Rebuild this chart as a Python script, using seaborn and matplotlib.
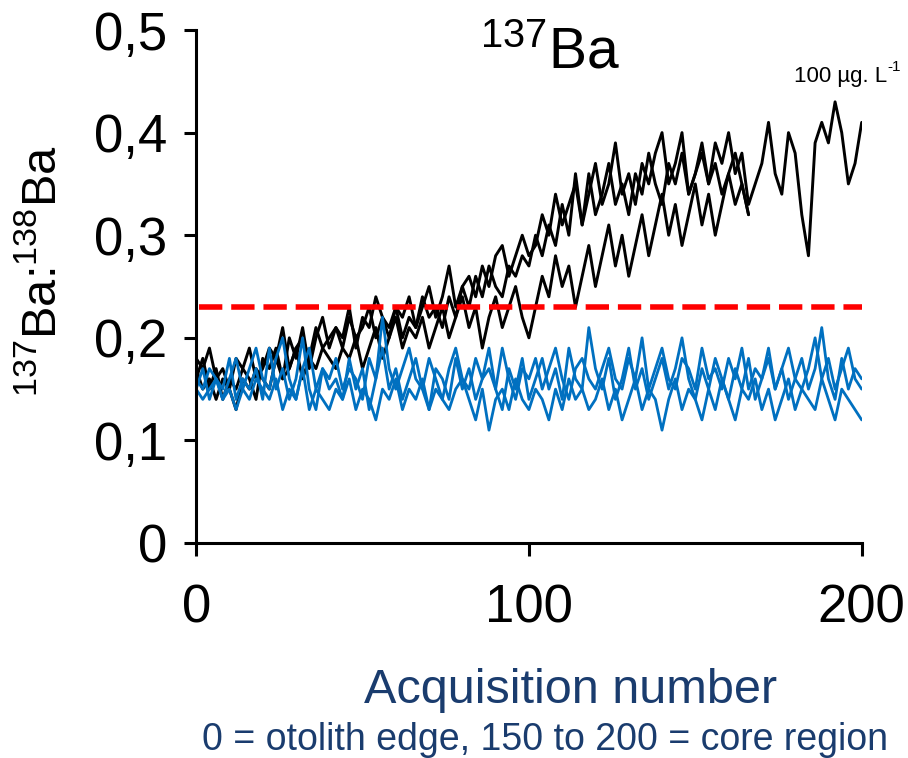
import numpy as np
import pandas as pd
import matplotlib
matplotlib.use("Agg")
import matplotlib.pyplot as plt
import seaborn as sns

# ---------------- data (step = 2 acquisitions) ----------------
x_full = list(range(0, 201, 2))      # 0..200
x_short = list(range(0, 167, 2))     # 0..166

black_a = [0.18,0.17,0.19,0.16,0.17,0.15,0.18,0.17,0.19,0.16,0.17,
           0.19,0.18,0.21,0.17,0.19,0.20,0.18,0.21,0.19,0.20,
           0.21,0.19,0.22,0.20,0.21,0.23,0.20,0.22,0.21,0.23,
           0.20,0.22,0.21,0.24,0.22,0.23,0.21,0.24,0.22,0.25,
           0.23,0.26,0.24,0.27,0.25,0.24,0.27,0.26,0.28,0.27,
           0.30,0.28,0.31,0.29,0.33,0.30,0.36,0.31,0.34,0.37,
           0.33,0.35,0.39,0.34,0.36,0.33,0.37,0.35,0.38,0.40,
           0.35,0.37,0.40,0.34,0.36,0.38,0.35,0.39,0.37,0.40,
           0.36,0.38,0.33,0.35,0.37,0.41,0.36,0.34,0.40,0.38,
           0.32,0.28,0.39,0.41,0.39,0.43,0.40,0.35,0.37,0.41]

black_b = [0.16,0.18,0.15,0.17,0.14,0.16,0.15,0.17,0.16,0.14,0.18,
           0.17,0.19,0.16,0.20,0.18,0.21,0.17,0.20,0.22,0.19,
           0.21,0.20,0.23,0.19,0.22,0.21,0.24,0.22,0.20,0.23,
           0.22,0.24,0.21,0.23,0.25,0.22,0.24,0.27,0.23,0.25,
           0.26,0.24,0.27,0.25,0.28,0.29,0.26,0.28,0.30,0.28,
           0.29,0.32,0.30,0.34,0.31,0.33,0.35,0.31,0.36,0.32,
           0.34,0.37,0.33,0.35,0.32,0.36,0.34,0.38,0.35,0.33,
           0.37,0.35,0.38,0.34,0.36,0.39,0.35,0.37,0.34,0.36,
           0.38,0.35,0.32]

black_c = [0.17,0.15,0.16,0.14,0.16,0.15,0.13,0.16,0.15,0.17,0.16,
           0.15,0.18,0.16,0.17,0.19,0.16,0.18,0.17,0.19,0.18,
           0.17,0.19,0.18,0.20,0.17,0.19,0.21,0.18,0.20,0.22,
           0.19,0.21,0.20,0.22,0.19,0.21,0.23,0.20,0.22,0.24,
           0.21,0.23,0.19,0.22,0.24,0.21,0.23,0.25,0.22,0.20,
           0.23,0.26,0.24,0.28,0.25,0.27,0.23,0.26,0.29,0.25,
           0.28,0.31,0.27,0.30,0.26,0.29,0.32,0.28,0.31,0.34,
           0.30,0.33,0.29,0.32,0.35,0.31,0.34,0.30,0.33,0.36,
           0.33,0.35,0.32]

blue_1 = [0.15,0.17,0.14,0.16,0.15,0.18,0.14,0.16,0.15,0.17,0.14,
          0.19,0.15,0.17,0.14,0.16,0.20,0.15,0.13,0.17,0.15,
          0.16,0.14,0.18,0.15,0.17,0.13,0.16,0.19,0.15,0.17,
          0.14,0.16,0.18,0.15,0.13,0.17,0.16,0.14,0.18,0.15,
          0.17,0.14,0.16,0.19,0.15,0.13,0.17,0.15,0.18,0.14,
          0.16,0.18,0.15,0.17,0.14,0.19,0.16,0.15,0.21,0.17,
          0.15,0.18,0.14,0.16,0.19,0.15,0.17,0.14,0.16,0.18,
          0.15,0.17,0.20,0.16,0.14,0.17,0.15,0.18,0.16,0.14,
          0.17,0.15,0.18,0.14,0.16,0.19,0.15,0.17,0.14,0.16,
          0.18,0.15,0.17,0.21,0.16,0.14,0.18,0.15,0.17,0.16]

blue_2 = [0.16,0.15,0.17,0.16,0.14,0.16,0.18,0.15,0.17,0.19,0.16,
          0.15,0.18,0.20,0.16,0.14,0.17,0.19,0.15,0.17,0.16,
          0.18,0.15,0.17,0.16,0.14,0.18,0.16,0.22,0.17,0.15,
          0.17,0.19,0.16,0.15,0.18,0.16,0.14,0.17,0.19,0.16,
          0.15,0.18,0.16,0.17,0.15,0.19,0.16,0.14,0.17,0.16,
          0.18,0.15,0.17,0.19,0.16,0.14,0.17,0.18,0.16,0.15,
          0.17,0.19,0.16,0.15,0.18,0.16,0.20,0.15,0.17,0.19,
          0.16,0.15,0.18,0.17,0.15,0.19,0.16,0.17,0.15,0.18,
          0.16,0.19,0.15,0.17,0.16,0.18,0.15,0.17,0.19,0.16,
          0.15,0.17,0.20,0.16,0.18,0.15,0.17,0.19,0.16,0.15]

blue_3 = [0.15,0.14,0.15,0.16,0.14,0.15,0.13,0.15,0.14,0.16,0.15,
          0.14,0.16,0.13,0.15,0.14,0.17,0.13,0.15,0.14,0.13,
          0.15,0.14,0.16,0.13,0.15,0.14,0.12,0.15,0.14,0.16,
          0.13,0.15,0.14,0.16,0.13,0.15,0.14,0.13,0.15,0.16,
          0.14,0.12,0.15,0.11,0.14,0.15,0.13,0.16,0.14,0.13,
          0.15,0.14,0.12,0.15,0.13,0.16,0.14,0.15,0.13,0.14,
          0.16,0.13,0.15,0.12,0.14,0.16,0.13,0.15,0.14,0.11,
          0.14,0.16,0.13,0.15,0.14,0.12,0.15,0.13,0.16,0.14,
          0.12,0.15,0.14,0.16,0.13,0.15,0.12,0.14,0.16,0.13,
          0.15,0.14,0.13,0.16,0.14,0.12,0.15,0.14,0.13,0.12]

threshold = 0.23
x_ticks = [0, 100, 200]
y_ticks = [0, 0.1, 0.2, 0.3, 0.4, 0.5]
y_tick_labels = ["0", "0,1", "0,2", "0,3", "0,4", "0,5"]

# ---------------- style ----------------
sns.set_theme(style="ticks")
plt.rcParams["font.family"] = ["Liberation Sans", "DejaVu Sans"]
plt.rcParams["mathtext.fontset"] = "custom"
plt.rcParams["mathtext.rm"] = "Liberation Sans"
plt.rcParams["mathtext.it"] = "Liberation Sans"
plt.rcParams["mathtext.bf"] = "Liberation Sans"
plt.rcParams["text.color"] = "black"
plt.rcParams["axes.labelcolor"] = "black"
plt.rcParams["xtick.color"] = "black"
plt.rcParams["ytick.color"] = "black"

fig = plt.figure(figsize=(9.08, 7.58), dpi=100)
ax = fig.add_axes([0.216, 0.2836, 0.733, 0.6768])

def frame(xs, ys, name):
    return pd.DataFrame({"x": xs, "y": ys, "series": name})

black_series = [(x_full, black_a, "A"), (x_short, black_b, "B"), (x_short, black_c, "C")]
blue_series = [(x_full, blue_1, "D"), (x_full, blue_2, "E"), (x_full, blue_3, "F")]

for xs, ys, nm in black_series:
    sns.lineplot(data=frame(xs, ys, nm), x="x", y="y", color="black",
                 linewidth=2.1, ax=ax, estimator=None, legend=False,
                 solid_joinstyle="round", solid_capstyle="round")
for xs, ys, nm in blue_series:
    sns.lineplot(data=frame(xs, ys, nm), x="x", y="y", color="#0070C0",
                 linewidth=2.0, ax=ax, estimator=None, legend=False,
                 solid_joinstyle="round", solid_capstyle="round")

ax.axhline(threshold, xmin=0.005, xmax=1.0, color="#FF0000", linewidth=4.0,
           linestyle=(0, (4.2, 1.6)), zorder=5)

ax.set_xlim(0, 200)
ax.set_ylim(0, 0.5)
ax.set_xticks(x_ticks)
ax.set_xticklabels([str(v) for v in x_ticks])
ax.set_yticks(y_ticks)
ax.set_yticklabels(y_tick_labels)
ax.tick_params(axis="both", labelsize=38, width=2.2, length=9, color="black",
               labelcolor="black", direction="out")
ax.tick_params(axis="x", pad=20)
ax.tick_params(axis="y", pad=12)
for side in ["top", "right"]:
    ax.spines[side].set_visible(False)
for side in ["left", "bottom"]:
    ax.spines[side].set_linewidth(2.2)
    ax.spines[side].set_color("black")

ax.set_xlabel("")
ax.set_ylabel(r"$^{137}$Ba:$^{138}$Ba", fontsize=35, color="black")
ax.yaxis.set_label_coords(-0.196, 0.53)

fig.text(0.606, 0.91, r"$^{137}$Ba", fontsize=41, ha="center", va="baseline")
t_unit = fig.text(0.875, 0.892, "100 µg. L", fontsize=16, ha="left", va="baseline")
ax.annotate("-1", xy=(1.0, 0.62), xycoords=t_unit, fontsize=11,
            ha="left", va="bottom", annotation_clip=False)
navy = "#1A3C6E"
fig.text(0.628, 0.072, "Acquisition number", fontsize=35, color=navy,
         ha="center", va="baseline")
fig.text(0.600, 0.011, "0 = otolith edge, 150 to 200 = core region", fontsize=27,
         color=navy, ha="center", va="baseline")

fig.savefig("out.png", dpi=100)
